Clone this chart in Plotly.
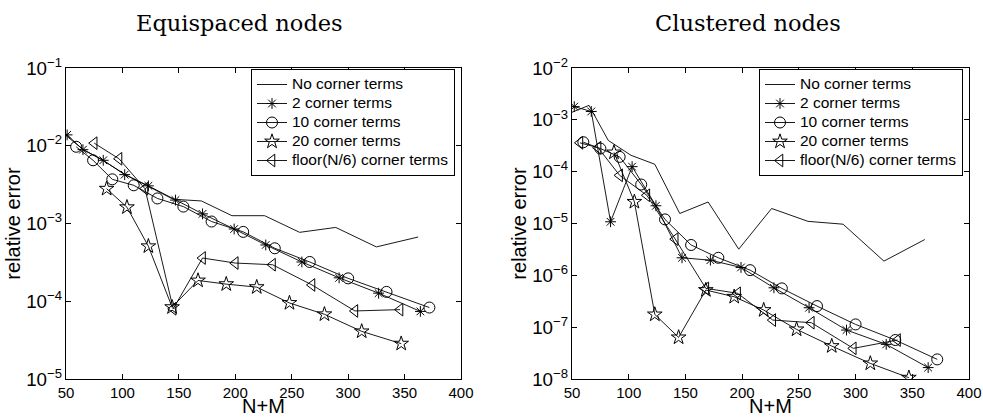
import plotly.graph_objects as go

# ---------------- data: Equispaced nodes (left) ----------------
nm_none_L = [50, 65, 82, 102, 123, 145, 170, 197, 226, 257, 289, 325, 362]
err_none_L = [1.35e-2, 9.0e-3, 6.6e-3, 4.3e-3, 3.0e-3, 2.05e-3, 1.95e-3, 1.26e-3, 1.26e-3, 7.7e-4, 8.9e-4, 5.0e-4, 6.7e-4]

nm_2_L = [51, 65, 83, 102, 123, 147, 171, 199, 227, 259, 292, 327, 364]
err_2_L = [1.38e-2, 8.9e-3, 6.5e-3, 4.25e-3, 3.05e-3, 2.0e-3, 1.33e-3, 8.5e-4, 5.3e-4, 3.2e-4, 2.0e-4, 1.27e-4, 7.4e-5]

nm_10_L = [59, 74, 91, 110, 131, 154, 179, 207, 235, 266, 300, 334, 372]
err_10_L = [9.7e-3, 6.5e-3, 3.7e-3, 3.1e-3, 2.1e-3, 1.65e-3, 1.06e-3, 7.8e-4, 4.8e-4, 3.2e-4, 1.97e-4, 1.32e-4, 8.3e-5]

nm_20_L = [86, 104, 123, 144, 167, 192, 219, 248, 279, 312, 347]
err_20_L = [2.8e-3, 1.62e-3, 5.1e-4, 8.4e-5, 1.85e-4, 1.66e-4, 1.52e-4, 9.5e-5, 6.8e-5, 4.1e-5, 2.85e-5]

nm_fl_L = [75, 97, 120, 145, 171, 200, 233, 268, 306, 346]
err_fl_L = [1.08e-2, 6.8e-3, 2.8e-3, 8.0e-5, 3.6e-4, 3.1e-4, 2.95e-4, 1.62e-4, 7.5e-5, 7.8e-5]

# ---------------- data: Clustered nodes (right) ----------------
nm_none_R = [50, 65, 82, 102, 123, 145, 170, 197, 226, 258, 289, 325, 361]
err_none_R = [1.4e-3, 1.9e-3, 4.0e-4, 2.07e-4, 1.39e-4, 1.56e-5, 2.6e-5, 3.2e-6, 1.95e-5, 1.1e-5, 9.7e-6, 1.88e-6, 4.9e-6]

nm_2_R = [52, 67, 84, 103, 124, 147, 172, 199, 228, 259, 292, 327, 364]
err_2_R = [1.8e-3, 1.45e-3, 1.08e-5, 1.25e-4, 2.2e-5, 2.18e-6, 1.96e-6, 1.42e-6, 5.75e-7, 2.37e-7, 8.8e-8, 4.66e-8, 1.66e-8]

nm_10_R = [60, 75, 92, 111, 132, 155, 179, 207, 235, 266, 300, 335, 372]
err_10_R = [3.7e-4, 2.79e-4, 1.93e-4, 5.65e-5, 1.2e-5, 3.85e-6, 2.18e-6, 1.26e-6, 5.6e-7, 2.55e-7, 1.13e-7, 5.65e-8, 2.39e-8]

nm_20_R = [87, 105, 123, 144, 168, 193, 219, 248, 279, 313, 347]
err_20_R = [2.35e-4, 2.62e-5, 1.76e-7, 6.35e-8, 5.2e-7, 3.86e-7, 2.14e-7, 9.06e-8, 4.32e-8, 2.0e-8, 1.06e-8]

nm_fl_R = [57, 73, 92, 116, 141, 168, 196, 227, 261, 298, 337]
err_fl_R = [3.6e-4, 2.9e-4, 8.5e-5, 3.5e-5, 5.0e-6, 5.6e-7, 4.5e-7, 1.37e-7, 1.22e-7, 3.9e-8, 5.65e-8]

names = ["No corner terms", "2 corner terms", "10 corner terms",
         "20 corner terms", "floor(N/6) corner terms"]
symbols = [None, "asterisk-open", "circle-open", "star-open", "triangle-left-open"]
sizes = [0, 9, 11, 11, 11]

titles = ["Equispaced nodes", "Clustered nodes"]
x_ticks = [50, 100, 150, 200, 250, 300, 350, 400]
y_range_L = [-5, -1]
y_range_R = [-8, -2]

left_series = [(nm_none_L, err_none_L), (nm_2_L, err_2_L), (nm_10_L, err_10_L),
               (nm_20_L, err_20_L), (nm_fl_L, err_fl_L)]
right_series = [(nm_none_R, err_none_R), (nm_2_R, err_2_R), (nm_10_R, err_10_R),
                (nm_20_R, err_20_R), (nm_fl_R, err_fl_R)]

SANS = "Liberation Sans, Arial, Helvetica, sans-serif"
SERIF = "DejaVu Serif, serif"
LEG_TXT = 15.5

fig = go.Figure()

for series, xa, ya, leg in [(left_series, "x", "y", "legend"),
                            (right_series, "x2", "y2", "legend2")]:
    for i, (xs, ys) in enumerate(series):
        if symbols[i] is None:
            mode = "lines"
            marker = None
        else:
            mode = "lines+markers"
            marker = dict(symbol=symbols[i], size=sizes[i], color="black",
                          line=dict(color="black", width=1))
        fig.add_trace(go.Scatter(
            x=xs, y=ys, mode=mode,
            name='<span style="font-size:%.1fpx">%s</span>' % (LEG_TXT, names[i]),
            line=dict(color="black", width=0.9),
            marker=marker, xaxis=xa, yaxis=ya, legend=leg, showlegend=True))

W, H = 983, 417
ml, mr, mt, mb = 66, 14, 68, 38
pw = W - ml - mr
ph = H - mt - mb

def px_x(p):
    return (p - ml) / pw

def px_y(p):
    return (H - mb - p) / ph

def minor_vals(rng):
    return [k * 10.0 ** e for e in range(rng[0], rng[1]) for k in range(2, 10)]

common_x = dict(range=[50, 400], tickvals=x_ticks, ticktext=[str(v) for v in x_ticks],
                ticks="inside", ticklen=5, tickcolor="black", mirror="allticks",
                showline=True, linecolor="black", linewidth=1, showgrid=False,
                zeroline=False, automargin=False,
                tickfont=dict(family=SANS, size=15, color="black"),
                title=dict(text="N+M", font=dict(family=SANS, size=20, color="black"),
                           standoff=1))

def y_axis(rng):
    return dict(type="log", range=rng, dtick=1, exponentformat="power", showexponent="all",
                ticks="inside", ticklen=5, tickcolor="black", mirror="allticks",
                showline=True, linecolor="black", linewidth=1, showgrid=False,
                zeroline=False, automargin=False,
                tickfont=dict(family=SANS, size=15, color="black"),
                title=dict(text="relative error", font=dict(family=SANS, size=20, color="black"),
                           standoff=0))

def minor_axis(over, anchor, rng):
    return dict(overlaying=over, anchor=anchor, type="log", range=rng,
                tickmode="array", tickvals=minor_vals(rng),
                ticks="inside", ticklen=3, tickcolor="black", mirror="allticks",
                showline=True, linecolor="black", linewidth=1, showgrid=False,
                zeroline=False, showticklabels=False, automargin=False)

fig.update_layout(
    width=W, height=H,
    margin=dict(l=ml, r=mr, t=mt, b=mb),
    paper_bgcolor="white", plot_bgcolor="white",
    xaxis=dict(domain=[0, px_x(461)], anchor="y", **common_x),
    yaxis=dict(domain=[0, 1], anchor="x", **y_axis(y_range_L)),
    xaxis2=dict(domain=[px_x(572), 1], anchor="y2", **common_x),
    yaxis2=dict(domain=[0, 1], anchor="x2", **y_axis(y_range_R)),
    yaxis3=minor_axis("y", "x", y_range_L),
    yaxis4=minor_axis("y2", "x2", y_range_R),
    legend=dict(x=px_x(455), y=px_y(69), xanchor="right", yanchor="top",
                bgcolor="white", bordercolor="black", borderwidth=1,
                font=dict(family=SANS, size=12, color="black"),
                tracegroupgap=0, itemwidth=30),
    legend2=dict(x=px_x(963), y=px_y(69), xanchor="right", yanchor="top",
                 bgcolor="white", bordercolor="black", borderwidth=1,
                 font=dict(family=SANS, size=12, color="black"),
                 tracegroupgap=0, itemwidth=30),
    showlegend=True,
)

for t, cx in zip(titles, [239, 748]):
    fig.add_annotation(text=t, xref="paper", yref="paper", x=px_x(cx), y=px_y(23),
                       xanchor="center", yanchor="middle", showarrow=False,
                       font=dict(family=SERIF, size=22.5, color="black"))

fig.write_html("out.html", config={"displayModeBar": False},
               post_script="document.body.style.margin='0px';document.body.style.padding='0px';")
